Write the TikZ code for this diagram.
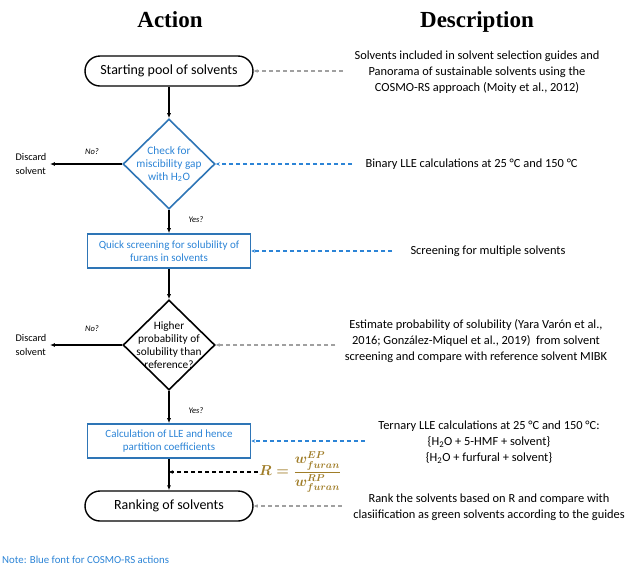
\documentclass[tikz,border=0pt]{standalone}
\usepackage{amsmath}
\usepackage{fontspec}
\setmainfont{Carlito}
\newfontfamily\titlefont{Liberation Serif}
\usetikzlibrary{shapes.geometric,arrows.meta}

% colours of the chart
\definecolor{boxblue}{RGB}{46,117,182}
\definecolor{txtblue}{RGB}{44,132,214}
\definecolor{linkgrey}{RGB}{160,160,160}
\definecolor{gold}{RGB}{160,125,40}

\tikzset{
    title/.style={font=\titlefont\bfseries\fontsize{23}{27}\selectfont},
    terminal/.style={draw, line width=1.4pt, rounded corners=15pt, minimum width=168pt, minimum height=30pt, font=\fontsize{14}{16}\selectfont},
    cosmobox/.style={draw=boxblue, line width=1.6pt, text=txtblue, minimum width=163pt, minimum height=34pt, align=center, font=\fontsize{11}{13.5}\selectfont},
    decision/.style={diamond, draw, line width=1.6pt, minimum width=92pt, minimum height=90pt},
    decisiontext/.style={align=center, font=\fontsize{11.3}{13}\selectfont},
    desc/.style={align=center, font=\fontsize{12.4}{16}\selectfont},
    discard/.style={align=left, font=\fontsize{10.3}{13.5}\selectfont},
    answer/.style={font=\itshape\fontsize{8.5}{10}\selectfont},
    flow/.style={-{Latex[length=5pt,width=4pt]}, line width=1.3pt},
    greylink/.style={-{Stealth[length=4pt,width=3.5pt]}, dashed, dash pattern=on 4pt off 3pt, line width=1.1pt, draw=linkgrey},
    bluelink/.style={-{Stealth[length=4pt,width=3.5pt]}, dashed, dash pattern=on 4pt off 3pt, line width=1.1pt, draw=txtblue},
    rlink/.style={-{Stealth[length=4pt,width=3.5pt]}, dashed, dash pattern=on 4pt off 3pt, line width=1.2pt}
}

\begin{document}
\begin{tikzpicture}[x=1pt, y=-1pt]
    % frame of the picture
    \useasboundingbox (0,0) rectangle (627,566);
    % column titles
    \node[title] (acttitle) at (170,20) {Action};
    \node[title] (desctitle) at (477,22) {Description};
    % action column
    \node[terminal] (start) at (169,71) {Starting pool of solvents};
    \node[decision, draw=boxblue] (misc) at (169,164) {};
    \node[decisiontext, text=txtblue] (misctext) at (169,164) {Check for\\miscibility gap\\with H\textsubscript{2}O};
    \node[cosmobox] (screen) at (169,251) {Quick screening for solubility of\\furans in solvents};
    \node[decision] (prob) at (169,345) {};
    \node[decisiontext] (probtext) at (169,345) {Higher\\probability of\\solubility than\\reference?};
    \node[cosmobox] (lle) at (169,441) {Calculation of LLE and hence\\partition coefficients};
    \node[terminal] (rank) at (169,506) {Ranking of solvents};
    % discarded solvents
    \node[discard] (discA) at (31,164) {Discard\\solvent};
    \node[discard] (discB) at (31,345) {Discard\\solvent};
    % answers on the branches
    \node[answer] (noA) at (92,152) {No?};
    \node[answer] (noB) at (92,329) {No?};
    \node[answer] (yesA) at (196,220) {Yes?};
    \node[answer] (yesB) at (196,411) {Yes?};
    % description column
    \node[desc] (descA) at (477,72) {Solvents included in solvent selection guides and\\Panorama of sustainable solvents using the\\COSMO-RS approach (Moity et al., 2012)};
    \node[desc, anchor=west] (descB) at (362,164) {Binary LLE calculations at 25 °C and 150 °C};
    \node[desc, anchor=west] (descC) at (407,251) {Screening for multiple solvents};
    \node[desc] (descD) at (476,341) {Estimate probability of solubility (Yara Varón et al.,\\2016; González-Miquel et al., 2019)\ \ from solvent\\screening and compare with reference solvent MIBK};
    \node[desc] (descE) at (489,442) {Ternary LLE calculations at 25 °C and 150 °C:\\\{H\textsubscript{2}O + 5-HMF + solvent\}\\\{H\textsubscript{2}O + furfural + solvent\}};
    \node[desc] (descF) at (489,507) {Rank the solvents based on R and compare with\\clasiification as green solvents according to the guides};
    % ratio of the partition
    \node[anchor=west, text=gold, inner sep=1pt, font=\boldmath\fontsize{14.5}{16}\selectfont] (ratio) at (258,472) {$R=\dfrac{w^{EP}_{furan}}{w^{RP}_{furan}}$};
    \coordinate (ratioend) at (169,472);
    % note
    \node[anchor=west, text=txtblue, inner sep=0pt, font=\fontsize{10.8}{12}\selectfont] (note) at (2,560) {Note: Blue font for COSMO-RS actions};
    % main flow
    \draw[flow] (start) -- (misc);
    \draw[flow] (misc) -- (screen);
    \draw[flow] (screen) -- (prob);
    \draw[flow] (prob) -- (lle);
    \draw[flow] (lle) -- (rank);
    \draw[flow] (misc) -- (discA);
    \draw[flow] (prob) -- (discB);
    % links from the descriptions
    \draw[greylink, shorten <=8pt] (descA.west |- start) -- (start);
    \draw[bluelink, shorten <=10pt] (descB.west) -- (misc);
    \draw[bluelink, shorten <=15pt] (descC.west) -- (screen);
    \draw[greylink, shorten <=6pt] (descD.west |- prob) -- (prob);
    \draw[bluelink, shorten <=10pt] (descE.west |- lle) -- (lle);
    \draw[greylink, shorten <=8pt] (descF.west |- rank) -- (rank);
    \draw[rlink] (ratio) -- (ratioend);
\end{tikzpicture}
\end{document}
